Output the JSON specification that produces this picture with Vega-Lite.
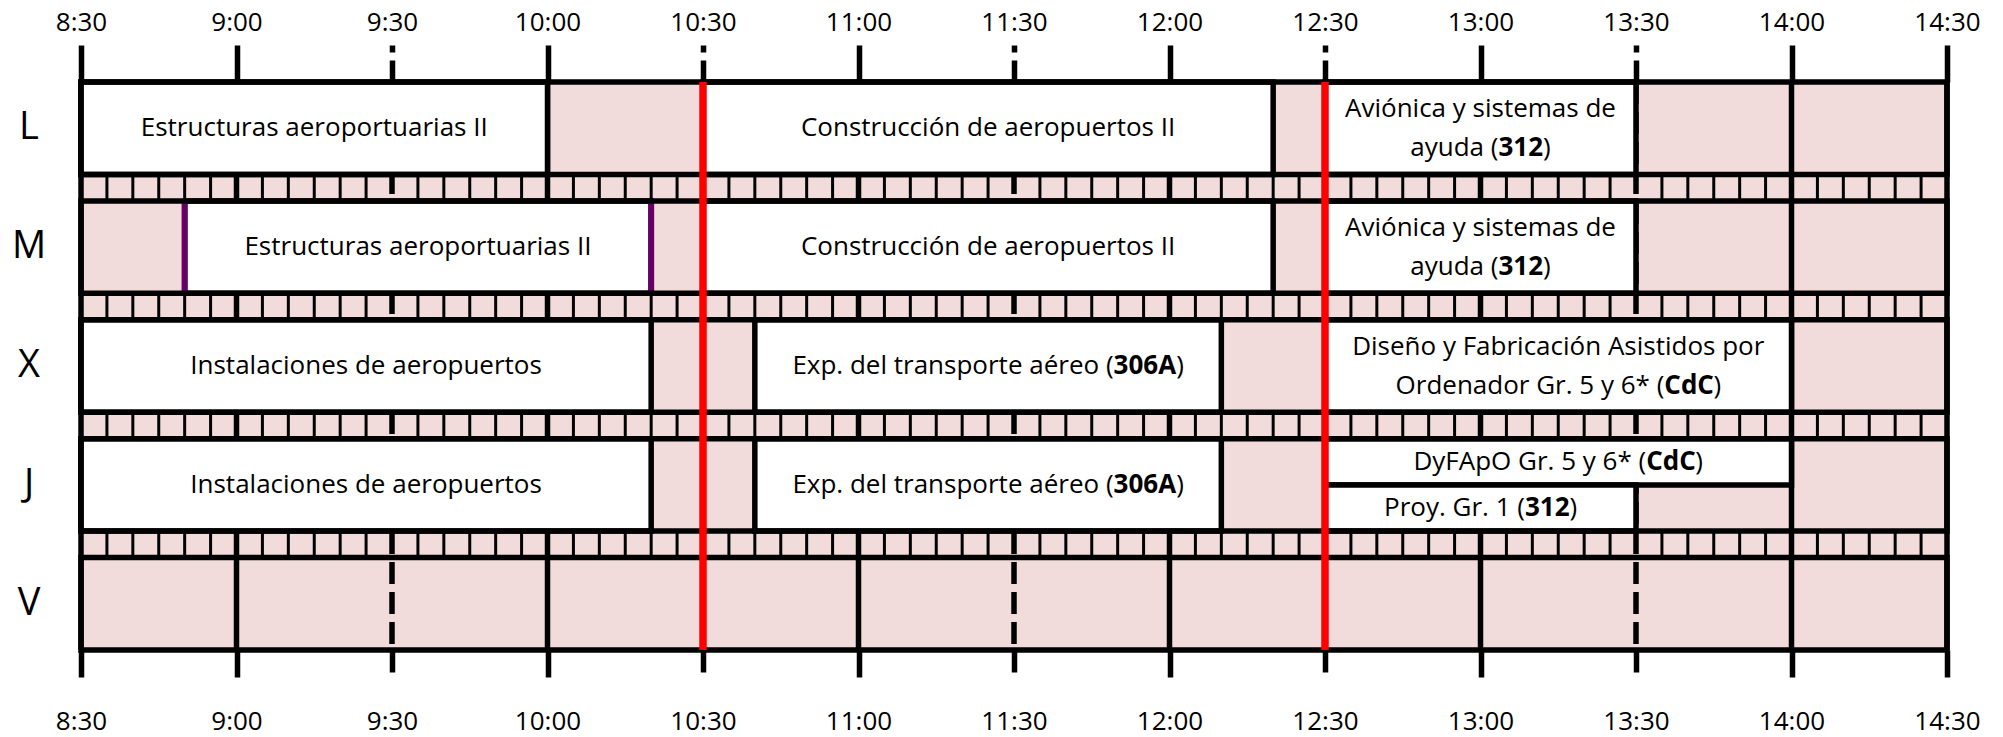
{
  "$schema": "https://vega.github.io/schema/vega-lite/v6.json",
  "width": 1866,
  "height": 568,
  "autosize": {"type": "none"},
  "padding": {"left": 81, "top": 82, "right": 56, "bottom": 87},
  "background": "white",
  "config": {"view": {"stroke": null, "fill": "#f2dcdb"}, "font": "Open Sans"},
  "datasets": {
    "days": [{"day": "L"}, {"day": "M"}, {"day": "X"}, {"day": "J"}, {"day": "V"}],
    "minor": [
      {"t": 515}, {"t": 520}, {"t": 525}, {"t": 530}, {"t": 535},
      {"t": 545}, {"t": 550}, {"t": 555}, {"t": 560}, {"t": 565},
      {"t": 575}, {"t": 580}, {"t": 585}, {"t": 590}, {"t": 595},
      {"t": 605}, {"t": 610}, {"t": 615}, {"t": 620}, {"t": 625},
      {"t": 635}, {"t": 640}, {"t": 645}, {"t": 650}, {"t": 655},
      {"t": 665}, {"t": 670}, {"t": 675}, {"t": 680}, {"t": 685},
      {"t": 695}, {"t": 700}, {"t": 705}, {"t": 710}, {"t": 715},
      {"t": 725}, {"t": 730}, {"t": 735}, {"t": 740}, {"t": 745},
      {"t": 755}, {"t": 760}, {"t": 765}, {"t": 770}, {"t": 775},
      {"t": 785}, {"t": 790}, {"t": 795}, {"t": 800}, {"t": 805},
      {"t": 815}, {"t": 820}, {"t": 825}, {"t": 830}, {"t": 835},
      {"t": 845}, {"t": 850}, {"t": 855}, {"t": 860}, {"t": 865}
    ],
    "grid": [
      {"t": 510}, {"t": 540}, {"t": 570}, {"t": 600}, {"t": 630}, {"t": 660}, {"t": 690},
      {"t": 720}, {"t": 750}, {"t": 780}, {"t": 810}, {"t": 840}, {"t": 870}
    ],
    "red": [{"t": 630}, {"t": 750}],
    "purple": [{"day": "M", "t": 530}, {"day": "M", "t": 620}],
    "boxes": [
      {"day": "L", "start": 510, "end": 600, "part": "full"},
      {"day": "L", "start": 630, "end": 740, "part": "full"},
      {"day": "L", "start": 750, "end": 810, "part": "full"},
      {"day": "M", "start": 530, "end": 620, "part": "full"},
      {"day": "M", "start": 630, "end": 740, "part": "full"},
      {"day": "M", "start": 750, "end": 810, "part": "full"},
      {"day": "X", "start": 510, "end": 620, "part": "full"},
      {"day": "X", "start": 640, "end": 730, "part": "full"},
      {"day": "X", "start": 750, "end": 840, "part": "full"},
      {"day": "J", "start": 510, "end": 620, "part": "full"},
      {"day": "J", "start": 640, "end": 730, "part": "full"},
      {"day": "J", "start": 750, "end": 840, "part": "top"},
      {"day": "J", "start": 750, "end": 810, "part": "bottom"}
    ],
    "plain": [
      {"day": "L", "start": 510, "end": 600, "text": "Estructuras aeroportuarias II", "line": 0},
      {"day": "L", "start": 630, "end": 740, "text": "Construcción de aeropuertos II", "line": 0},
      {"day": "L", "start": 750, "end": 810, "text": "Aviónica y sistemas de", "line": 1},
      {"day": "M", "start": 530, "end": 620, "text": "Estructuras aeroportuarias II", "line": 0},
      {"day": "M", "start": 630, "end": 740, "text": "Construcción de aeropuertos II", "line": 0},
      {"day": "M", "start": 750, "end": 810, "text": "Aviónica y sistemas de", "line": 1},
      {"day": "X", "start": 510, "end": 620, "text": "Instalaciones de aeropuertos", "line": 0},
      {"day": "X", "start": 750, "end": 840, "text": "Diseño y Fabricación Asistidos por", "line": 1},
      {"day": "J", "start": 510, "end": 620, "text": "Instalaciones de aeropuertos", "line": 0}
    ],
    "rich": [
      {"day": "L", "start": 750, "end": 810, "pre": "ayuda (", "b": "312", "post": ")", "line": 2},
      {"day": "M", "start": 750, "end": 810, "pre": "ayuda (", "b": "312", "post": ")", "line": 2},
      {"day": "X", "start": 640, "end": 730, "pre": "Exp. del transporte aéreo (", "b": "306A", "post": ")", "line": 0},
      {"day": "J", "start": 640, "end": 730, "pre": "Exp. del transporte aéreo (", "b": "306A", "post": ")", "line": 0},
      {"day": "X", "start": 750, "end": 840, "pre": "Ordenador Gr. 5 y 6* (", "b": "CdC", "post": ")", "line": 2},
      {"day": "J", "start": 750, "end": 840, "pre": "DyFApO Gr. 5 y 6* (", "b": "CdC", "post": ")", "line": 3},
      {"day": "J", "start": 750, "end": 810, "pre": "Proy. Gr. 1 (", "b": "312", "post": ")", "line": 4}
    ]
  },
  "layer": [
    {
      "data": {"name": "minor"},
      "mark": {"type": "rule", "color": "black", "strokeWidth": 3},
      "encoding": {
        "x": {
          "field": "t", "type": "quantitative",
          "scale": {"domain": [510, 870], "nice": false, "zero": false},
          "axis": {
            "orient": "bottom", "title": null, "domain": false, "grid": false,
            "values": [510, 540, 570, 600, 630, 660, 690, 720, 750, 780, 810, 840, 870],
            "labelExpr": "floor(datum.value / 60) + ':' + (datum.value % 60 === 0 ? '00' : '30')",
            "tickSize": 27, "tickWidth": 5.5, "tickColor": "black",
            "tickDash": {"condition": {"test": "datum.value % 60 === 30 && datum.value > 510 && datum.value < 870", "value": [22, 8]}, "value": [1, 0]},
            "labelFont": "Open Sans", "labelFontSize": 26, "labelColor": "black",
            "labelPadding": 31, "labelFlush": false, "labelOverlap": false, "labelBound": false
          }
        }
      }
    },
    {
      "data": {"name": "days"},
      "mark": {"type": "rect", "color": "#f2dcdb"},
      "encoding": {
        "y": {
          "field": "day", "type": "nominal",
          "scale": {"domain": ["L", "M", "X", "J", "V"], "paddingInner": 0.2227, "paddingOuter": 0},
          "axis": null
        }
      }
    },
    {
      "data": {"name": "grid"},
      "mark": {"type": "rule", "color": "black", "strokeWidth": 5.5},
      "encoding": {
        "x": {
          "field": "t", "type": "quantitative",
          "axis": {
            "orient": "top", "title": null, "domain": false, "grid": false,
            "values": [510, 540, 570, 600, 630, 660, 690, 720, 750, 780, 810, 840, 870],
            "labelExpr": "floor(datum.value / 60) + ':' + (datum.value % 60 === 0 ? '00' : '30')",
            "tickSize": 37, "tickWidth": 5.5, "tickColor": "black",
            "tickDash": {"condition": {"test": "datum.value % 60 === 30 && datum.value > 510 && datum.value < 870", "value": [22, 8]}, "value": [1, 0]},
            "labelFont": "Open Sans", "labelFontSize": 26, "labelColor": "black",
            "labelPadding": 9.5, "labelFlush": false, "labelOverlap": false, "labelBound": false
          }
        },
        "strokeDash": {
          "condition": {"test": "datum.t % 60 === 30 && datum.t > 510 && datum.t < 870", "value": [22, 8]},
          "value": [1, 0]
        }
      }
    },
    {
      "data": {"name": "boxes"},
      "transform": [{"filter": "datum.part === 'full'"}],
      "mark": {"type": "rect", "fill": "white", "stroke": "black", "strokeWidth": 5.5},
      "encoding": {
        "x": {"field": "start", "type": "quantitative", "axis": null},
        "x2": {"field": "end"},
        "y": {"field": "day", "type": "nominal", "axis": null}
      }
    },
    {
      "data": {"name": "boxes"},
      "transform": [{"filter": "datum.part !== 'full'"}],
      "mark": {"type": "rect", "fill": "white", "stroke": "black", "strokeWidth": 5.5},
      "encoding": {
        "x": {"field": "start", "type": "quantitative", "axis": null},
        "x2": {"field": "end"},
        "y": {"field": "day", "type": "nominal", "axis": null},
        "yOffset": {"field": "part", "type": "nominal", "scale": {"domain": ["top", "bottom"], "paddingInner": 0, "paddingOuter": 0}}
      }
    },
    {
      "data": {"name": "purple"},
      "mark": {"type": "rect", "filled": false, "color": "#660066", "strokeWidth": 6},
      "encoding": {
        "x": {"field": "t", "type": "quantitative", "axis": null},
        "x2": {"field": "t"},
        "y": {"field": "day", "type": "nominal", "axis": null}
      }
    },
    {
      "data": {"name": "days"},
      "mark": {"type": "rect", "filled": false, "color": "black", "strokeWidth": 5.5},
      "encoding": {
        "y": {"field": "day", "type": "nominal", "axis": null}
      }
    },
    {
      "data": {"name": "red"},
      "mark": {"type": "rule", "color": "#ff0000", "strokeWidth": 7.5},
      "encoding": {
        "x": {"field": "t", "type": "quantitative", "axis": null}
      }
    },
    {
      "data": {"name": "days"},
      "mark": {
        "type": "text", "font": "Liberation Sans Narrow, Open Sans", "fontSize": 38, "color": "black",
        "align": "center", "baseline": "middle", "dx": -52, "clip": false
      },
      "encoding": {
        "x": {"datum": 510, "type": "quantitative", "axis": null},
        "y": {"field": "day", "type": "nominal", "axis": null},
        "text": {"field": "day"}
      }
    },
    {
      "data": {"name": "plain"},
      "transform": [{"calculate": "(datum.start + datum.end) / 2", "as": "mid"}],
      "mark": {
        "type": "text", "font": "Open Sans", "fontSize": 26, "color": "black",
        "align": "center", "baseline": "middle",
        "dy": {"expr": "datum.line === 1 ? -19.5 : datum.line === 2 ? 19.5 : datum.line === 3 ? -23.1 : datum.line === 4 ? 23.1 : 0"}
      },
      "encoding": {
        "x": {"field": "mid", "type": "quantitative", "axis": null},
        "y": {"field": "day", "type": "nominal", "axis": null},
        "text": {"field": "text"}
      }
    },
    {
      "data": {"name": "rich"},
      "transform": [{"calculate": "(datum.start + datum.end) / 2", "as": "mid"}],
      "mark": {
        "type": "text", "font": "Open Sans", "fontSize": 26, "color": "black",
        "align": "right", "baseline": "middle",
        "dx": {"expr": "datum.b === '306A' ? 125.5 : datum.b === 'CdC' ? (datum.line === 3 ? 87.9 : 106.1) : (datum.line === 4 ? 44.5 : 18)"},
        "dy": {"expr": "datum.line === 1 ? -19.5 : datum.line === 2 ? 19.5 : datum.line === 3 ? -23.1 : datum.line === 4 ? 23.1 : 0"}
      },
      "encoding": {
        "x": {"field": "mid", "type": "quantitative", "axis": null},
        "y": {"field": "day", "type": "nominal", "axis": null},
        "text": {"field": "pre"}
      }
    },
    {
      "data": {"name": "rich"},
      "transform": [{"calculate": "(datum.start + datum.end) / 2", "as": "mid"}],
      "mark": {
        "type": "text", "font": "Open Sans", "fontSize": 26, "fontWeight": "bold", "color": "black",
        "align": "left", "baseline": "middle",
        "dx": {"expr": "datum.b === '306A' ? 125.5 : datum.b === 'CdC' ? (datum.line === 3 ? 87.9 : 106.1) : (datum.line === 4 ? 44.5 : 18)"},
        "dy": {"expr": "datum.line === 1 ? -19.5 : datum.line === 2 ? 19.5 : datum.line === 3 ? -23.1 : datum.line === 4 ? 23.1 : 0"}
      },
      "encoding": {
        "x": {"field": "mid", "type": "quantitative", "axis": null},
        "y": {"field": "day", "type": "nominal", "axis": null},
        "text": {"field": "b"}
      }
    },
    {
      "data": {"name": "rich"},
      "transform": [{"calculate": "(datum.start + datum.end) / 2", "as": "mid"}],
      "mark": {
        "type": "text", "font": "Open Sans", "fontSize": 26, "color": "black",
        "align": "left", "baseline": "middle",
        "dx": {"expr": "datum.b === '306A' ? 188.1 : datum.b === 'CdC' ? (datum.line === 3 ? 137.1 : 155.3) : (datum.line === 4 ? 89.1 : 62.6)"},
        "dy": {"expr": "datum.line === 1 ? -19.5 : datum.line === 2 ? 19.5 : datum.line === 3 ? -23.1 : datum.line === 4 ? 23.1 : 0"}
      },
      "encoding": {
        "x": {"field": "mid", "type": "quantitative", "axis": null},
        "y": {"field": "day", "type": "nominal", "axis": null},
        "text": {"field": "post"}
      }
    }
  ]
}
